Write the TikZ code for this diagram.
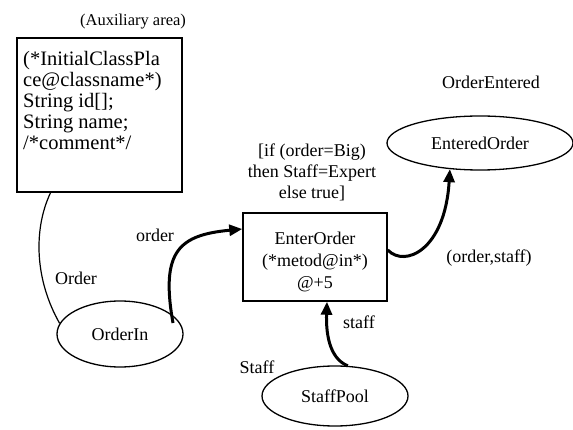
\documentclass[tikz,border=0pt]{standalone}
\usepackage{fontspec}
\setmainfont{Liberation Serif}
\usetikzlibrary{arrows.meta,shapes.geometric}
\begin{document}
\begin{tikzpicture}[x=1pt,y=-1pt,
  lbl/.style={inner sep=0pt,font=\fontsize{18}{21}\selectfont},
  place/.style={draw,ellipse,line width=1.3pt,inner sep=0pt,font=\fontsize{18}{21}\selectfont},
  trans/.style={draw,rectangle,line width=1.5pt,inner sep=0pt,align=center,font=\fontsize{18}{22}\selectfont},
  arc/.style={line width=3pt,-{Triangle[length=13pt,width=11pt]}},
  thin/.style={line width=1.2pt}]
\useasboundingbox (0,0) rectangle (573,430);
\fill[white] (0,0) rectangle (573,430);
% auxiliary area
\node[lbl,font=\fontsize{16.5}{19}\selectfont] (auxlbl) at (133,22) {(Auxiliary area)};
\node[draw,line width=1.5pt,minimum width=165pt,minimum height=154pt,inner sep=0pt] (aux) at (99.5,115) {};
\node[inner sep=0pt,anchor=north west,align=left,font=\fontsize{20.5}{21}\selectfont] (auxtext) at (23,51) {(*InitialClassPla\\ce@classname*)\\String id[];\\String name;\\/*comment*/};
% places
\node[place,minimum width=126pt,minimum height=66pt] (OrderIn) at (120,334) {OrderIn};
\node[place,minimum width=186pt,minimum height=54pt] (EnteredOrder) at (480,143) {EnteredOrder};
\node[place,minimum width=146pt,minimum height=60pt] (StaffPool) at (335,396) {StaffPool};
% transition
\node[trans,minimum width=144pt,minimum height=88pt] (EnterOrder) at (315,257) {\rule{0pt}{22pt}EnterOrder\\(*metod@in*)\\@+5};
% labels
\node[lbl] (lOrder) at (76,278) {Order};
\node[lbl] (lorder) at (155,235) {order};
\node[lbl,align=center] (guard) at (312,172) {[if (order=Big)\\then Staff=Expert\\else true]};
\node[lbl] (lOrderEntered) at (491,82) {OrderEntered};
\node[lbl] (lorderstaff) at (489,258) {(order,staff)};
\node[lbl] (lStaff) at (257,367) {Staff};
\node[lbl] (lstaff) at (359,322) {staff};
% connectors
\draw[thin] ([xshift=-49pt]aux.south) .. controls (33,230) and (35,280) .. (OrderIn.170);
\draw[arc] ([shift={(53pt,11pt)}]OrderIn.center) .. controls (160,250) and (180,235) .. ([yshift=28pt]EnterOrder.west);
\draw[arc] ([yshift=7pt]EnterOrder.east) .. controls (405,268) and (445,250) .. (EnteredOrder.221);
\draw[arc] (StaffPool.67) .. controls (328,358) and (326,330) .. ([xshift=12pt]EnterOrder.south);
\end{tikzpicture}
\end{document}
